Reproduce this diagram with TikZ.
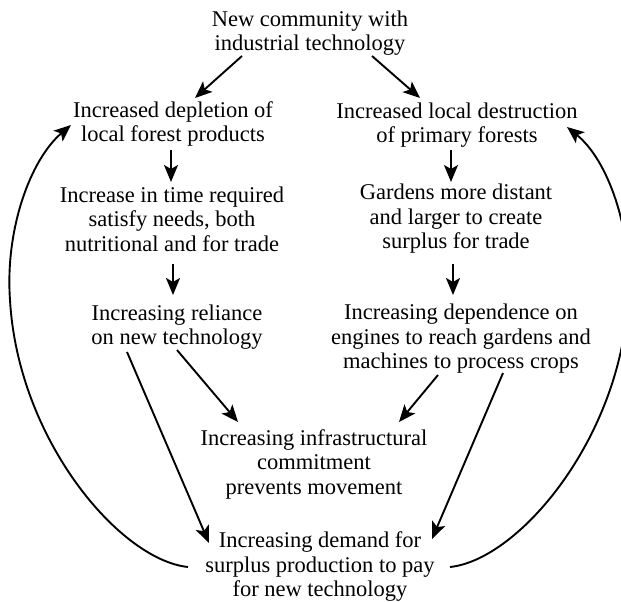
\documentclass[tikz,border=0pt]{standalone}
\usepackage{fontspec}
\setmainfont{Liberation Serif}
\usetikzlibrary{arrows.meta,calc}
\begin{document}
\begin{tikzpicture}[x=1pt,y=-1pt,
  lbl/.style={align=center,inner sep=0pt,font=\fontsize{22.5}{24.5}\selectfont},
  arr/.style={line width=1.9pt,-{Stealth[length=17pt,width=14pt,inset=4pt]}}]
\clip (0,0) rectangle (621,602);
\node[lbl] (top) at (310,33) {New community with\\industrial technology};
\node[lbl] (L1) at (173,124) {Increased depletion of\\local forest products};
\node[lbl] (R1) at (457,125) {Increased local destruction\\of primary forests};
\node[lbl] (L2) at (172,219) {Increase in time required\\satisfy needs, both\\nutritional and for trade};
\node[lbl] (R2) at (456,219) {Gardens more distant\\and larger to create\\surplus for trade};
\node[lbl] (L3) at (177,327) {Increasing reliance\\on new technology};
\node[lbl] (R3) at (461,339) {Increasing dependence on\\engines to reach gardens and\\machines to process crops};
\node[lbl] (M) at (314,464) {Increasing infrastructural\\commitment\\prevents movement};
\node[lbl] (B) at (320,567) {Increasing demand for\\surplus production to pay\\for new technology};
\draw[arr] ($(top)+(-68,23)$) -- ($(L1)+(22,-26)$);
\draw[arr] ($(top)+(62,23)$) -- ($(R1)+(-37,-27)$);
\draw[arr] ($(L1)+(-2,26)$) -- ($(L2)+(-1,-37)$);
\draw[arr] ($(R1)+(-6,25)$) -- ($(R2)+(-5,-37)$);
\draw[arr] ($(L2)+(1,45)$) -- ($(L3)+(-4,-32)$);
\draw[arr] ($(R2)+(-3,45)$) -- ($(R3)+(-8,-44)$);
\draw[arr] ($(L3)+(0,23)$) -- ($(M)+(-76,-42)$);
\draw[arr] ($(R3)+(-23,36)$) -- ($(M)+(85,-42)$);
\draw[arr] ($(L3)+(-50,25)$) -- ($(B)+(-111,-24)$);
\draw[arr] ($(R3)+(42,34)$) -- ($(B)+(112,-28)$);
\draw[arr] ($(B)+(-132,0)$) .. controls (120,560) and (18,440) .. (10,300)
   .. controls (5,230) and (30,160) .. ($(L1)+(-102,1)$);
\draw[arr] ($(B)+(130,0)$) .. controls (518,560) and (620,440) .. (628,300)
   .. controls (633,230) and (608,160) .. ($(R1)+(110,2)$);
\end{tikzpicture}
\end{document}
